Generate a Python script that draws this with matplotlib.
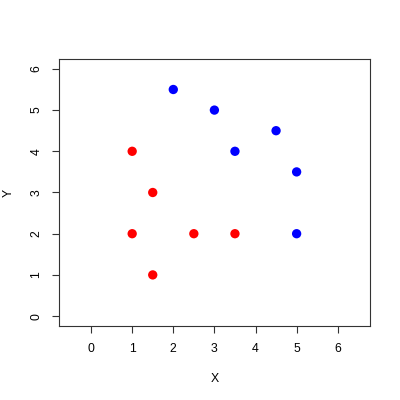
import matplotlib
matplotlib.use("Agg")
import matplotlib.pyplot as plt

red_x = [1, 1.5, 1, 1.5, 2.5, 3.5]
red_y = [4, 3, 2, 1, 2, 2]
blue_x = [2, 3, 3.5, 4.5, 5, 5]
blue_y = [5.5, 5, 4, 4.5, 3.5, 2]
ticks = [0, 1, 2, 3, 4, 5, 6]

plt.rcParams["font.family"] = ["Liberation Sans", "DejaVu Sans"]

fig = plt.figure(figsize=(4, 4), dpi=100)
ax = fig.add_axes([0.1475, 0.185, 0.777, 0.6675])
ax.scatter(red_x, red_y, s=45, color="red", edgecolors="none")
ax.scatter(blue_x, blue_y, s=45, color="blue", edgecolors="none")

ax.set_xlim(-0.78, 6.78)
ax.set_ylim(-0.24, 6.24)
ax.set_xticks(ticks)
ax.set_yticks(ticks)
ax.tick_params(direction="out", length=5, width=0.8, labelsize=8.8, pad=7,
               color="#333333")
for lab in ax.get_yticklabels():
    lab.set_rotation(90)
    lab.set_va("center")
for s in ax.spines.values():
    s.set_linewidth(0.8)
    s.set_color("#333333")

ax.set_xlabel("X", fontsize=8.8, labelpad=13)
ax.set_ylabel("Y", fontsize=8.8, labelpad=11)

fig.savefig("out.png", dpi=100)
